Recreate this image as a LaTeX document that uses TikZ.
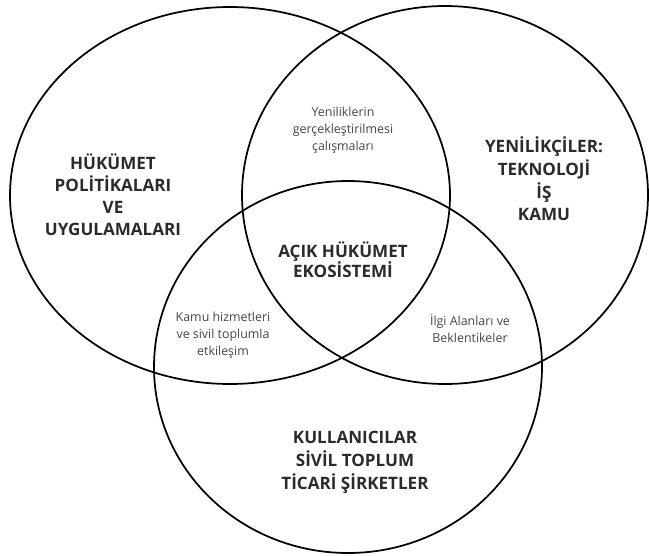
\documentclass[tikz,border=0pt]{standalone}
\usepackage{fontspec}
\setmainfont{Open Sans}
\usepackage{tikz}
\usetikzlibrary{positioning}

\definecolor{inkdark}{HTML}{2B2B2B}
\definecolor{inkgray}{HTML}{454545}

\tikzset{
  ring/.style={draw=black, line width=1.3pt},
  bigtext/.style={font=\bfseries\fontsize{12.8}{16.4}\selectfont, text=inkdark, align=center},
  smalltext/.style={font=\fontsize{9.3}{12.7}\selectfont, text=inkgray, align=center}
}

\begin{document}
\begin{tikzpicture}[x=0.75pt, y=-0.75pt]
    \useasboundingbox (0,0) rectangle (649,556);
    % the three sets
    \draw[ring] (230,195.5) ellipse [x radius=220, y radius=188.5];
    \draw[ring] (445,195) ellipse [x radius=203, y radius=189];
    \draw[ring] (348,367) ellipse [x radius=194, y radius=186];

    % set labels
    \node[bigtext] (govt) at (113,195) {HÜKÜMET\\POLİTİKALARI\\VE\\UYGULAMALARI};
    \node[bigtext, font=\bfseries\fontsize{12.8}{17}\selectfont] (innov) at (544,179) {YENİLİKÇİLER:\\TEKNOLOJİ\\İŞ\\KAMU};
    \node[bigtext, font=\bfseries\fontsize{12.8}{17.2}\selectfont] (users) at (355,462) {KULLANICILAR\\SİVİL TOPLUM\\TİCARİ ŞİRKETLER};
    \node[bigtext, font=\bfseries\fontsize{12.8}{15.2}\selectfont] (core) at (343,260) {AÇIK HÜKÜMET\\EKOSİSTEMİ};

    % overlap labels
    \node[smalltext] (topover) at (343,130) {Yeniliklerin\\gerçekleştirilmesi\\çalışmaları};
    \node[smalltext] (leftover) at (223,335.5) {Kamu hizmetleri\\ve sivil toplumla\\etkileşim};
    \node[smalltext] (rightover) at (470,328.5) {İlgi Alanları ve\\Beklentikeler};
\end{tikzpicture}
\end{document}
